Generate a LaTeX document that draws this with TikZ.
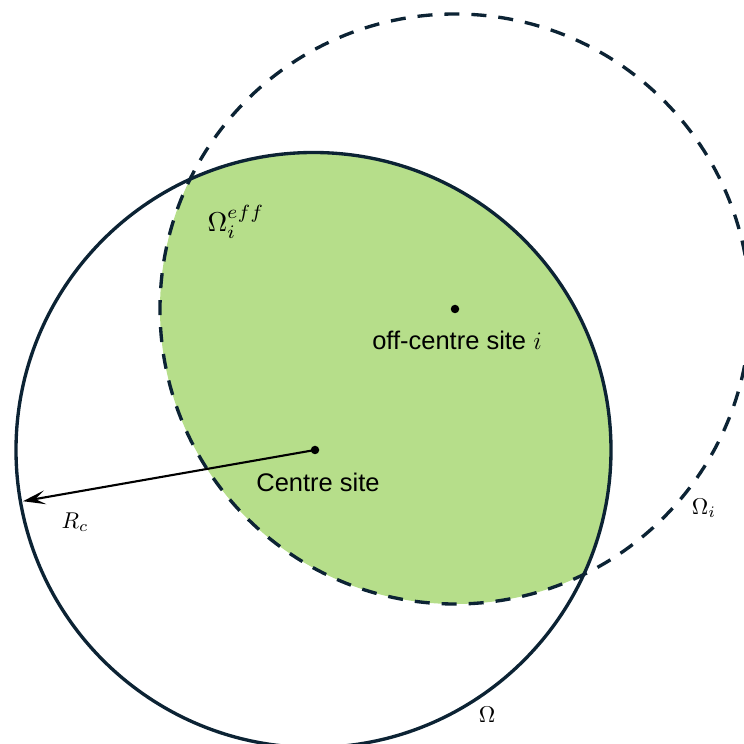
\documentclass[tikz,border=0pt]{standalone}
\usepackage{fontspec}
\setsansfont{Liberation Sans}
\usetikzlibrary{arrows.meta}
\definecolor{rimblue}{RGB}{12,35,52}
\definecolor{effgreen}{RGB}{182,222,138}

\begin{document}
\begin{tikzpicture}[
  >=Stealth,
  rim/.style={line width=1.9pt, draw=rimblue},
  lbl/.style={font=\fontsize{14.5}{17}\selectfont\sffamily},
  mlbl/.style={scale=1.3},
  site/.style={circle, fill=black, inner sep=0pt, minimum size=0.17cm},
]
\useasboundingbox (0,0) rectangle (14.88,14.88);

% ---------- CENTRES ----------
\coordinate (ctr) at (6.27,5.88);
\coordinate (off) at (9.1,8.7);

% ---------- EFFECTIVE REGION ----------
\begin{scope}
  \clip (ctr) circle (5.95);
  \fill[effgreen] (off) circle (5.9);
\end{scope}

% ---------- CIRCLES ----------
\draw[rim] (ctr) circle (5.95);
\draw[rim, dash pattern=on 0.3cm off 0.24cm] (off) circle (5.9);

% ---------- SITES ----------
\node[site] (csite) at (6.3,5.88) {};
\node[site] (osite) at (off) {};
\node[lbl] (ctxt) at (6.36,5.24) {Centre site};
\node[lbl] (otxt) at (9.14,8.08) {off-centre site $i$};

% ---------- RADIUS ----------
\coordinate (rimpt) at ([shift={(190:5.9)}]ctr);
\draw[->, line width=1.2pt, >={Stealth[length=4.5mm, width=2.8mm, inset=2mm]}]
  (csite.center) -- (rimpt);
\node[mlbl] (rlbl) at (1.5,4.44) {$R_c$};

% ---------- REGION LABELS ----------
\node[scale=1.55] (efflbl) at (4.72,10.44) {$\Omega_i^{eff}$};
\node[mlbl] (ilbl) at (14.08,4.72) {$\Omega_i$};
\node[mlbl] (olbl) at (9.74,0.58) {$\Omega$};

\end{tikzpicture}
\end{document}
